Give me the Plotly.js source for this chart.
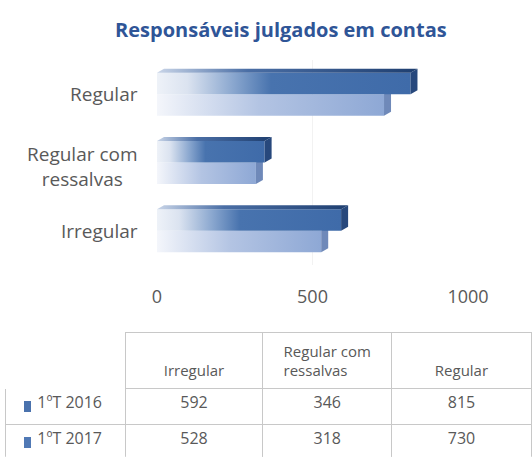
<!DOCTYPE html>
<html><head><meta charset="utf-8">
<script src="https://cdn.plot.ly/plotly-3.0.1.min.js"></script>
<style>html,body{margin:0;padding:0;background:#fff}#c{width:532px;height:457px}</style>
</head><body><div id="c"></div>
<script>
const categories = ['Irregular', 'Regular com ressalvas', 'Regular'];
const categoryLabels = ['Irregular', 'Regular com<br>ressalvas', 'Regular'];
const series2016 = [592, 346, 815];
const series2017 = [528, 318, 730];
const seriesNames = ['1ºT 2016', '1ºT 2017'];
const xTicks = [0, 500, 1000];

const c2016 = '#3c69a8', c2017 = '#8ba6d4';
const gray = '#595959';
const font = '"Open Sans", sans-serif';
const pad = '\u2002\u2002\u2002';

const traces = [
  {type:'bar', orientation:'h', name:seriesNames[1], y:categories, x:series2017,
   marker:{color:c2017}, xaxis:'x', yaxis:'y', hoverinfo:'skip'},
  {type:'bar', orientation:'h', name:seriesNames[0], y:categories, x:series2016,
   marker:{color:c2016}, xaxis:'x', yaxis:'y', hoverinfo:'skip'},
  {type:'table', domain:{x:[0.01,1.05], y:[0,0.272]},
   columnwidth:[120,138,129,140],
   header:{values:['', '\u00a0<br>'+categoryLabels[0], categoryLabels[1], '\u00a0<br>'+categoryLabels[2]],
     align:'center', height:55,
     line:{color:['#ffffff','#c8c8c8','#c8c8c8','#c8c8c8'], width:1},
     fill:{color:'#ffffff'}, font:{family:font, size:15, color:gray}},
   cells:{values:[
       [pad+seriesNames[0], pad+seriesNames[1]],
       [series2016[0], series2017[0]],
       [series2016[1], series2017[1]],
       [series2016[2], series2017[2]]],
     align:['left','center','center','center'], height:36,
     line:{color:'#c8c8c8', width:1}, fill:{color:'#ffffff'},
     font:{family:font, size:16, color:gray}}}
];

const keyRows = [[401, 412], [437, 448]];
const keyColors = ['#4a72ad', '#5079b5'];
const layout = {
  width:532, height:457, margin:{l:0,r:0,t:0,b:0},
  paper_bgcolor:'#fff', plot_bgcolor:'#fff', showlegend:false,
  barmode:'group', bargap:0.37, bargroupgap:0,
  title:{text:'Responsáveis julgados em contas', x:0.528, xanchor:'center', y:0.935, yanchor:'middle',
    font:{family:font, size:20, color:'#2f5597', weight:'bold'}},
  xaxis:{domain:[157/532, 468/532], range:[0,1000], tickvals:xTicks, ticktext:xTicks.map(String),
    showgrid:true, gridcolor:'#f2f2f2', zeroline:false, showline:false,
    tickfont:{family:font, size:18, color:gray}, ticklabelstandoff:19, anchor:'y'},
  yaxis:{domain:[1-265/457, 1-60/457], categoryorder:'array', categoryarray:categories,
    showticklabels:false, showgrid:false, zeroline:false, showline:false},
  annotations: categories.map((c,i)=>({xref:'paper', yref:'y', x:140/532, y:c, xanchor:'right', yanchor:'middle',
    yshift: i===1 ? -4 : 0,
    text:categoryLabels[i], showarrow:false, align:'center', font:{family:font, size:19, color:gray}})),
  shapes: keyRows.map((r,i)=>({type:'rect', xref:'paper', yref:'paper', x0:24/532, x1:31/532,
    y0:1-r[1]/457, y1:1-r[0]/457, fillcolor:keyColors[i], line:{width:0}, layer:'above'}))
};

Plotly.newPlot('c', traces, layout, {staticPlot:true}).then(gd=>{
  const svg = gd.querySelector('.main-svg');
  const NS = 'http://www.w3.org/2000/svg';
  let defs = svg.querySelector('defs');
  if(!defs){defs = document.createElementNS(NS,'defs'); svg.insertBefore(defs, svg.firstChild);}
  function grad(id, stops){
    const g = document.createElementNS(NS,'linearGradient');
    g.setAttribute('id', id); g.setAttribute('x1','0'); g.setAttribute('x2','1'); g.setAttribute('y1','0'); g.setAttribute('y2','0');
    stops.forEach(s=>{const st=document.createElementNS(NS,'stop'); st.setAttribute('offset',s[0]); st.setAttribute('stop-color',s[1]); g.appendChild(st);});
    defs.appendChild(g);
  }
  grad('g2017', [['0','#f4f6fb'],['0.45','#b3c4e3'],['1','#8ea8d5']]);
  grad('g2016', [['0','#eef2f8'],['0.12','#dbe3f0'],['0.3','#8aa7cf'],['0.45','#4873ae'],['1','#3f6ba9']]);
  grad('gtop', [['0','#c9d5e8'],['0.35','#4a6ea5'],['1','#1f3f70']]);
  const sides = ['#6f89b9', '#27487c'];
  const tr = gd.querySelectorAll('.barlayer .trace');
  tr.forEach((t,i)=>{
    t.querySelectorAll('path').forEach(p=>{
      p.style.fill = i===0 ? 'url(#g2017)' : 'url(#g2016)';
      p.style.stroke = 'none';
      const b = p.getBBox();
      const d = 7, h = 4;
      const x0=b.x, x1=b.x+b.width, y0=b.y, y1=b.y+b.height;
      const side = document.createElementNS(NS,'path');
      side.setAttribute('d', `M${x1},${y0}L${x1+d},${y0-h}L${x1+d},${y1-h}L${x1},${y1}Z`);
      side.style.fill = sides[i];
      p.parentNode.appendChild(side);
      if(i===1){
        const top = document.createElementNS(NS,'path');
        top.setAttribute('d', `M${x0},${y0}L${x0+d},${y0-h}L${x1+d},${y0-h}L${x1},${y0}Z`);
        top.style.fill = 'url(#gtop)';
        p.parentNode.appendChild(top);
      }
    });
  });
});
</script></body></html>
